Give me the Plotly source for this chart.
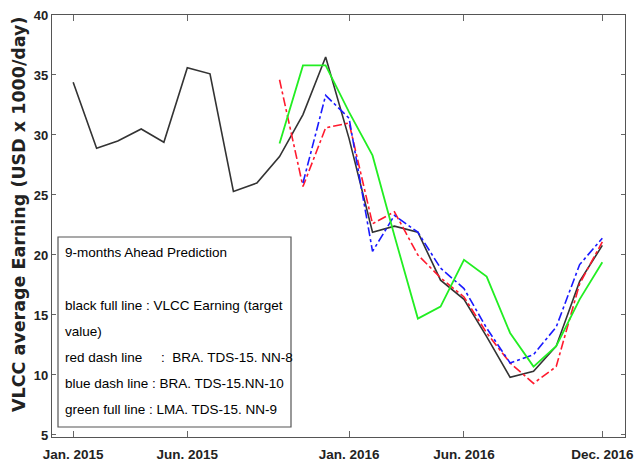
import pandas as pd
import plotly.graph_objects as go

# Monthly VLCC earnings, Jan 2015 - Dec 2016 (USD x 1000/day)
months = pd.date_range("2015-01-01", "2016-12-01", freq="MS")

target = [34.4, 28.9, 29.5, 30.5, 29.4, 35.6, 35.1, 25.3, 26.0, 28.2, 31.7, 36.5,
          29.7, 21.9, 22.4, 21.9, 17.9, 16.3, 13.2, 9.8, 10.3, 12.4, 17.8, 20.8]

# Predictions (start month index into `months`)
bra_nn8_start = 9
bra_nn8 = [34.6, 25.7, 30.6, 31.0, 22.6, 23.6, 20.0, 18.1, 16.5, 13.5, 11.0, 9.3,
           10.7, 17.6, 21.1]

bra_nn10_start = 10
bra_nn10 = [26.0, 33.3, 31.4, 20.3, 23.3, 21.9, 18.9, 17.2, 13.9, 11.0, 11.7, 14.0,
            19.2, 21.4]

lma_nn9_start = 9
lma_nn9 = [29.3, 35.8, 35.8, 31.9, 28.3, 21.6, 14.7, 15.7, 19.6, 18.2, 13.5, 10.7,
           12.4, 16.3, 19.4]

tick_dates = ["2015-01-01", "2015-06-01", "2016-01-01", "2016-06-01", "2016-12-01"]
tick_text = ["Jan. 2015", "Jun. 2015", "Jan. 2016", "Jun. 2016", "Dec. 2016"]
y_ticks = [5, 10, 15, 20, 25, 30, 35, 40]

legend_title = "9-months Ahead Prediction"
legend_lines = [
    "black full line : VLCC Earning (target",
    "value)",
    "red dash line     :  BRA. TDS-15. NN-8",
    "blue dash line : BRA. TDS-15.NN-10",
    "green full line : LMA. TDS-15. NN-9",
]

SANS = "Liberation Sans, Arial, sans-serif"

fig = go.Figure()
fig.add_trace(go.Scatter(x=months, y=target, mode="lines",
                         line=dict(color="#333333", width=1.6)))
fig.add_trace(go.Scatter(x=months[bra_nn8_start:], y=bra_nn8, mode="lines",
                         line=dict(color="#ff1a2e", width=1.6, dash="dashdot")))
fig.add_trace(go.Scatter(x=months[bra_nn10_start:], y=bra_nn10, mode="lines",
                         line=dict(color="#1a1aff", width=1.6, dash="dashdot")))
fig.add_trace(go.Scatter(x=months[lma_nn9_start:], y=lma_nn9, mode="lines",
                         line=dict(color="#22ee22", width=1.8)))

L, R, T, B = 52, 13, 15, 28
W, H = 638, 465
pw, ph = W - L - R, H - T - B


def px(xp):
    return (xp - L) / pw


def py(yp):
    return (H - B - yp) / ph


# Text box with the description of the lines
fig.add_shape(type="rect", xref="paper", yref="paper",
              x0=px(58), x1=px(291), y0=py(427), y1=py(237),
              line=dict(color="#555555", width=1.2), fillcolor="white")
fig.add_annotation(xref="paper", yref="paper", x=px(63), y=py(253),
                   xanchor="left", yanchor="middle", showarrow=False,
                   text=legend_title, font=dict(family=SANS, size=13.5, color="#000"))
for i, line in enumerate(legend_lines):
    fig.add_annotation(xref="paper", yref="paper", x=px(63), y=py(305 + 26 * i),
                       xanchor="left", yanchor="middle", showarrow=False,
                       text=line, font=dict(family=SANS, size=13.5, color="#000"))

# Y-axis title
fig.add_annotation(xref="paper", yref="paper", x=px(19), y=py(214),
                   xanchor="center", yanchor="middle", showarrow=False,
                   textangle=-90, text="VLCC average Earning (USD x 1000/day)",
                   font=dict(family="DejaVu Sans", size=17.5, color="#222", weight="bold"))

fig.update_layout(
    width=W, height=H,
    margin=dict(l=L, r=R, t=T, b=B, autoexpand=False),
    paper_bgcolor="white", plot_bgcolor="white",
    showlegend=False,
    xaxis=dict(
        type="date", range=["2014-12-04", "2016-12-31"],
        tickvals=tick_dates, ticktext=tick_text,
        ticks="inside", ticklen=6, tickcolor="#666",
        showgrid=False, zeroline=False, automargin=False,
        showline=True, linecolor="#555", linewidth=1.2, mirror="ticks",
        ticklabeloverflow="allow", ticklabelstandoff=5,
        tickfont=dict(family=SANS, size=13.5, color="#222", weight="bold"),
    ),
    yaxis=dict(
        range=[4.83, 40],
        tickvals=y_ticks,
        ticks="inside", ticklen=4, tickcolor="#666",
        showgrid=False, zeroline=False, automargin=False,
        showline=True, linecolor="#555", linewidth=1.2, mirror="ticks",
        tickfont=dict(family=SANS, size=13, color="#222", weight="bold"),
    ),
)

fig.write_html("out.html")
